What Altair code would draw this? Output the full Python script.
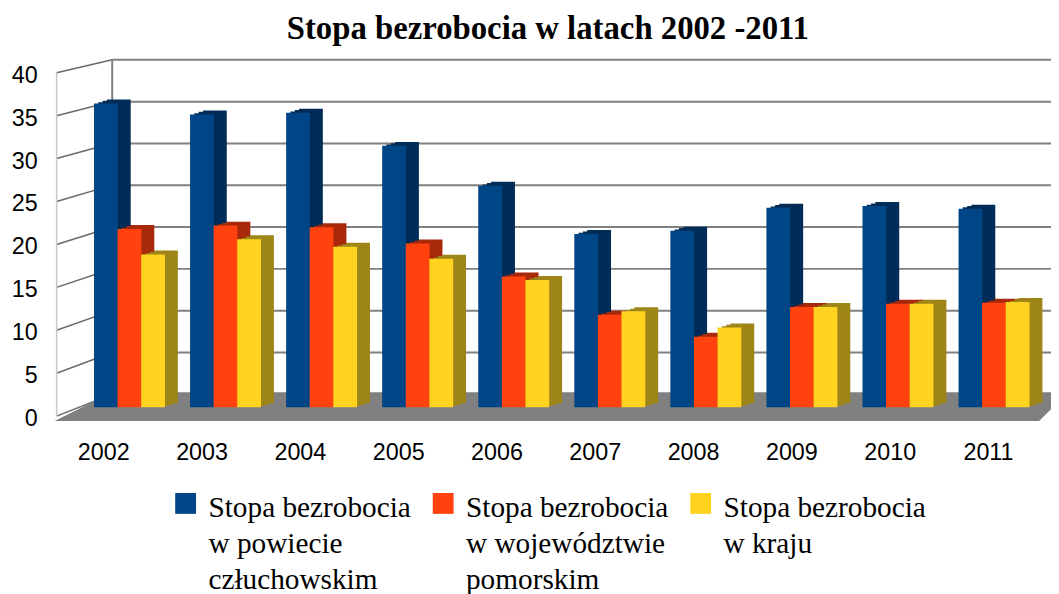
import altair as alt
import pandas as pd

# ---- data ----
years = ["2002", "2003", "2004", "2005", "2006", "2007", "2008", "2009", "2010", "2011"]
powiat = [35.8, 34.5, 34.7, 30.8, 26.1, 20.4, 20.8, 23.5, 23.7, 23.4]
wojewodztwo = [21.0, 21.4, 21.2, 19.3, 15.4, 10.9, 8.3, 11.8, 12.2, 12.3]
kraj = [18.0, 19.8, 18.9, 17.5, 15.0, 11.3, 9.4, 11.8, 12.2, 12.4]
series_names = [
    "Stopa bezrobocia\nw powiecie\nczłuchowskim",
    "Stopa bezrobocia\nw województwie\npomorskim",
    "Stopa bezrobocia\nw kraju",
]
front_colors = ["#004586", "#ff420e", "#ffd320"]
side_colors = ["#002c57", "#a8290a", "#9e8518"]
y_ticks = [0, 5, 10, 15, 20, 25, 30, 35, 40]
title_text = "Stopa bezrobocia w latach 2002 -2011"

rows = []
for i, yr in enumerate(years):
    for s, vals in enumerate([powiat, wojewodztwo, kraj]):
        rows.append({"year": yr, "idx": i, "s": s, "series": series_names[s], "value": vals[i]})
df = pd.DataFrame(rows)
year_df = pd.DataFrame({"year": years, "idx": list(range(len(years)))})
tick_df = pd.DataFrame({"v": y_ticks})
legend_df = pd.DataFrame({"series": series_names, "s": [0, 1, 2]})
one = pd.DataFrame({"k": [0]})

W, H = 978, 342


def bar_layer(colors, dx, dy):
    mk = dict(size=24)
    if dx:
        mk.update(xOffset=dx, yOffset=dy, y2Offset=dy)
    return alt.Chart(df).transform_calculate(
        pos="datum.idx + (datum.s - 1) * 0.2454"
    ).mark_bar(**mk).encode(
        x=alt.X("pos:Q", scale=alt.Scale(domain=[-0.5, 9.5], nice=False, zero=False), axis=None),
        y=alt.Y("value:Q", scale=alt.Scale(domain=[0, 40], nice=False), axis=None),
        color=alt.Color("series:N", scale=alt.Scale(domain=series_names, range=colors), legend=None),
    )


# back wall grid lines
grid = alt.Chart(tick_df).mark_rule(color="#808080", strokeWidth=2).encode(
    x=alt.value(36), x2=alt.value(990),
    y=alt.Y("v:Q", scale=alt.Scale(domain=[0, 40], range=[329, -8]), axis=None),
)
# left wall slanted lines
left_wall = alt.Chart(tick_df).transform_calculate(
    vb="(22 + 8.43 * datum.v) / 8.65"
).mark_rule(color="#6a6a6a", strokeWidth=1.5).encode(
    x=alt.value(-20), x2=alt.value(36),
    y=alt.Y("v:Q", scale=alt.Scale(domain=[0, 40], range=[351, 5]), axis=None),
    y2="vb:Q",
)
front_edge = alt.Chart(one).mark_rule(color="#c8c8c8", strokeWidth=1.5).encode(
    x=alt.value(-20), y=alt.value(5), y2=alt.value(351)
)
back_edge = alt.Chart(one).mark_rule(color="#808080", strokeWidth=2).encode(
    x=alt.value(36), y=alt.value(-8), y2=alt.value(329)
)
floor = alt.Chart(one).mark_point(
    shape="M-1,0.0284L0.9432,0.0284L1,-0.0284L-0.8864,-0.0284Z",
    size=1042441, filled=True, color="#808080", opacity=1,
).encode(x=alt.value(488.5), y=alt.value(341.5))

shadows = [bar_layer(side_colors, dx, dy) for dx, dy in [(13, -4), (8.7, -2.7), (4.3, -1.3)]]
fronts = bar_layer(front_colors, 0, 0)

year_labels = alt.Chart(year_df).mark_text(
    font="Liberation Sans", fontSize=23.5, baseline="middle", color="black"
).encode(
    x=alt.X("idx:Q", scale=alt.Scale(domain=[0, 9], range=[27.5, 919]), axis=None),
    y=alt.value(388),
    text="year:N",
)
y_labels = alt.Chart(tick_df).mark_text(
    font="Liberation Sans", fontSize=23.5, baseline="middle", align="right", color="black"
).encode(
    x=alt.value(-39),
    y=alt.Y("v:Q", scale=alt.Scale(domain=[0, 40], range=[354, 8]), axis=None),
    text="v:Q",
)
title = alt.Chart(one).mark_text(
    text=title_text, font="Liberation Serif", fontSize=33, fontWeight="bold",
    align="center", baseline="alphabetic", color="black",
).encode(x=alt.value(475), y=alt.value(-29))

leg_sq = alt.Chart(legend_df).mark_square(size=441, filled=True, opacity=1).encode(
    x=alt.X("s:Q", scale=alt.Scale(domain=[0, 2], range=[110, 629]), axis=None),
    y=alt.value(439),
    color=alt.Color("series:N", scale=alt.Scale(domain=series_names, range=front_colors), legend=None),
)
leg_txt = alt.Chart(legend_df).mark_text(
    font="Liberation Serif", fontSize=29.5, lineHeight=36, align="left",
    baseline="alphabetic", lineBreak="\n", color="black",
).encode(
    x=alt.X("s:Q", scale=alt.Scale(domain=[0, 2], range=[133, 652]), axis=None),
    y=alt.value(453),
    text="series:N",
)

chart = alt.layer(
    grid, left_wall, front_edge, back_edge, floor, *shadows, fronts,
    year_labels, y_labels, title, leg_sq, leg_txt,
).resolve_scale(x="independent", y="independent", color="independent").properties(
    width=W, height=H,
    padding={"left": 69, "top": 58, "right": 4, "bottom": 186},
    autosize=alt.AutoSizeParams(type="none"),
).configure_view(stroke=None)

chart.save("out.html", embed_options={"renderer": "svg", "actions": False})
